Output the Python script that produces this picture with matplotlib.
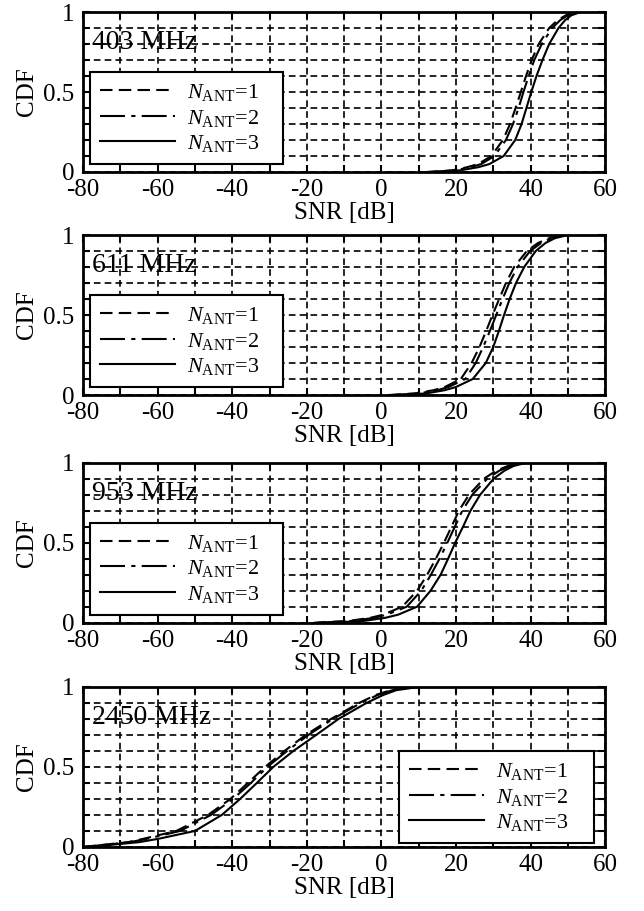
import matplotlib
matplotlib.use("Agg")
import matplotlib.pyplot as plt
from matplotlib.ticker import MultipleLocator

plt.rcParams['font.family'] = ['Liberation Serif', 'DejaVu Serif']
plt.rcParams['mathtext.fontset'] = 'custom'
plt.rcParams['mathtext.rm'] = 'Liberation Serif'
plt.rcParams['mathtext.it'] = 'Liberation Serif:italic'
plt.rcParams['axes.unicode_minus'] = False

# CDF levels shared by all curves
cdf = [0, 0.01, 0.03, 0.05, 0.1, 0.2, 0.3, 0.4, 0.5, 0.6, 0.7, 0.8, 0.9, 0.95, 0.98, 1.0]

# SNR [dB], per band, for N_ANT = 1, 2, 3
snr_403_n1 = [12, 19, 23, 26, 29.5, 32.6, 34.5, 36, 37.4, 38.8, 40.3, 42.2, 45, 47.3, 49.5, 52.5]
snr_403_n2 = [13, 19.5, 24, 26.8, 30.3, 33.4, 35.3, 36.8, 38.1, 39.5, 41, 43, 45.8, 48, 50, 53]
snr_403_n3 = [15, 21, 26, 29, 32.8, 35.9, 37.6, 38.9, 40.2, 41.6, 43.2, 45, 47.5, 49.3, 51, 53.5]

snr_611_n1 = [2, 9, 14, 17, 21.3, 24.2, 26.3, 28.1, 29.8, 31.6, 33.4, 35.6, 39, 42, 45, 48.7]
snr_611_n2 = [3, 10, 15, 18, 22.5, 25.3, 27.3, 29.1, 30.8, 32.5, 34.3, 36.5, 39.9, 42.8, 45.6, 49.2]
snr_611_n3 = [5, 12, 17, 20, 24.5, 28, 30, 31.5, 32.9, 34.4, 36.1, 38.3, 41.4, 44, 46.5, 50]

snr_953_n1 = [-18, -9, -3, 0.5, 5.6, 9.6, 12.3, 14.6, 16.8, 18.8, 20.8, 23.5, 27.5, 30.8, 34, 38]
snr_953_n2 = [-17, -8, -2, 1.5, 6.8, 10.7, 13.3, 15.6, 17.7, 19.7, 21.7, 24.4, 28.4, 31.6, 34.6, 38.5]
snr_953_n3 = [-14, -5, 1, 4.5, 9.6, 13.2, 15.9, 17.9, 19.8, 21.9, 23.9, 26.5, 30.1, 33, 35.5, 39]

snr_2450_n1 = [-80, -76, -68, -64, -55, -46.5, -40.5, -35.8, -31.2, -26, -20.3, -13.5, -6, -1.5, 2.5, 8]
snr_2450_n2 = [-80, -75.5, -67.5, -63, -54, -45.7, -39.8, -35, -30.6, -25.3, -19.6, -13, -5.5, -1, 3, 9]
snr_2450_n3 = [-80, -74, -65, -60, -50, -42.8, -37.9, -33.4, -29, -23.6, -17.5, -11.5, -4, 0.5, 4, 10]

bands = ['403 MHz', '611 MHz', '953 MHz', '2450 MHz']
series = [
    (snr_403_n1, snr_403_n2, snr_403_n3),
    (snr_611_n1, snr_611_n2, snr_611_n3),
    (snr_953_n1, snr_953_n2, snr_953_n3),
    (snr_2450_n1, snr_2450_n2, snr_2450_n3),
]
labels = [r'$N_{\mathrm{ANT}}$=1', r'$N_{\mathrm{ANT}}$=2', r'$N_{\mathrm{ANT}}$=3']
styles = [(0, (6, 3)), (0, (12, 3, 2, 3)), '-']

fig = plt.figure(figsize=(6.44, 9.11), dpi=100)
bottoms = [0.8112, 0.5664, 0.3165, 0.0703]

for i in range(4):
    ax = fig.add_axes([0.129, bottoms[i], 0.8106, 0.1756])
    for k in range(3):
        ax.plot(series[i][k], cdf, color='black', lw=1.5, linestyle=styles[k], label=labels[k])
    ax.set_xlim(-80, 60)
    ax.set_ylim(0, 1)
    ax.xaxis.set_major_locator(MultipleLocator(20))
    ax.xaxis.set_minor_locator(MultipleLocator(10))
    ax.yaxis.set_major_locator(MultipleLocator(0.5))
    ax.yaxis.set_minor_locator(MultipleLocator(0.1))
    ax.yaxis.set_major_formatter(plt.FuncFormatter(lambda v, p: '%g' % v))
    ax.tick_params(which='both', direction='in', top=True, right=True,
                   length=5, width=1.5, labelsize=18)
    ax.tick_params(axis='x', pad=5)
    ax.tick_params(axis='y', pad=6)
    ax.grid(which='both', color='black', linestyle=(0, (4, 2.5)), lw=1.2)
    for s in ax.spines.values():
        s.set_linewidth(2)
    ax.set_xlabel('SNR [dB]', fontsize=18, labelpad=1)
    ax.set_ylabel('CDF', fontsize=18, labelpad=4)
    ax.text(-77.5, 0.81, bands[i], fontsize=20, ha='left', va='center')
    if i < 3:
        anchor = (0.013, 0.05, 0.37, 0.58)
    else:
        anchor = (0.605, 0.025, 0.374, 0.6)
    leg = ax.legend(loc='lower left', bbox_to_anchor=anchor, mode='expand', borderaxespad=0,
                    fontsize=16, handlelength=3.4, handletextpad=0.5, fancybox=False,
                    framealpha=1, edgecolor='black', labelspacing=0.2, borderpad=0.45)
    leg.get_frame().set_linewidth(1.5)

fig.savefig('out.png', dpi=100)
